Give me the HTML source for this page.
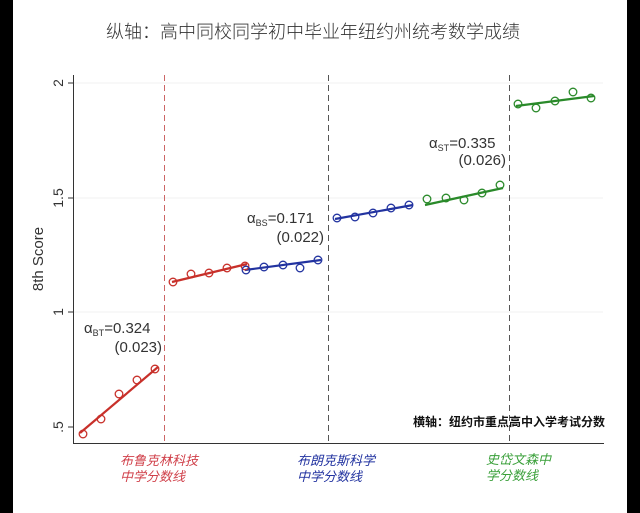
<!DOCTYPE html>
<html><head><meta charset="utf-8"><style>
html,body{margin:0;padding:0;background:#000;}
svg{display:block;}
</style></head><body>
<svg width="640" height="513" xmlns="http://www.w3.org/2000/svg" font-family="Liberation Sans, Noto Sans CJK SC, sans-serif">
<rect x="0" y="0" width="640" height="513" fill="#000"/>
<rect x="13" y="0" width="614" height="513" fill="#fff"/>
<text x="313" y="38" font-size="18" text-anchor="middle" fill="#333" font-family="Noto Sans CJK SC, sans-serif" font-weight="300">纵轴：高中同校同学初中毕业年纽约州统考数学成绩</text>
<g stroke="#f0f0f0" stroke-width="1">
<line x1="74" y1="83" x2="603" y2="83"/><line x1="74" y1="198" x2="603" y2="198"/><line x1="74" y1="312" x2="603" y2="312"/>
</g>
<g stroke="#333" stroke-width="1">
<line x1="73.5" y1="75" x2="73.5" y2="444"/>
<line x1="73" y1="443.5" x2="604" y2="443.5"/>
<line x1="68" y1="83" x2="73" y2="83"/><line x1="68" y1="198" x2="73" y2="198"/><line x1="68" y1="312" x2="73" y2="312"/><line x1="68" y1="427" x2="73" y2="427"/>
</g>
<g font-size="14" fill="#333" text-anchor="middle">
<text transform="translate(63,83) rotate(-90)">2</text>
<text transform="translate(63,198) rotate(-90)">1.5</text>
<text transform="translate(63,312) rotate(-90)">1</text>
<text transform="translate(63,427) rotate(-90)">.5</text>
<text transform="translate(43,259) rotate(-90)" font-size="15">8th Score</text>
</g>
<line x1="164.5" y1="75" x2="164.5" y2="443" stroke="#c66" stroke-dasharray="6,4"/>
<line x1="328.5" y1="75" x2="328.5" y2="443" stroke="#555" stroke-dasharray="6,4"/>
<line x1="509.5" y1="75" x2="509.5" y2="443" stroke="#555" stroke-dasharray="6,4"/>
<g stroke-width="2.2" fill="none">
<line x1="80" y1="433" x2="158" y2="367" stroke="#c8302a"/>
<line x1="172" y1="282" x2="247" y2="264" stroke="#c8302a"/>
<line x1="245" y1="270" x2="321" y2="260" stroke="#2233a0"/>
<line x1="335" y1="219" x2="413" y2="205" stroke="#2233a0"/>
<line x1="425" y1="205" x2="503" y2="188" stroke="#2a8a2a"/>
<line x1="516" y1="106" x2="594" y2="96" stroke="#2a8a2a"/>
</g>
<g fill="none" stroke-width="1.3">
<g stroke="#c8302a">
<circle cx="83" cy="434" r="3.8"/><circle cx="101" cy="419" r="3.8"/><circle cx="119" cy="394" r="3.8"/><circle cx="137" cy="380" r="3.8"/><circle cx="155" cy="369" r="3.8"/>
<circle cx="173" cy="282" r="3.8"/><circle cx="191" cy="274" r="3.8"/><circle cx="209" cy="273" r="3.8"/><circle cx="227" cy="268" r="3.8"/><circle cx="245" cy="266" r="3.8"/>
</g>
<g stroke="#2233a0">
<circle cx="246" cy="270" r="3.8"/><circle cx="264" cy="267" r="3.8"/><circle cx="283" cy="265" r="3.8"/><circle cx="300" cy="268" r="3.8"/><circle cx="318" cy="260" r="3.8"/>
<circle cx="337" cy="218" r="3.8"/><circle cx="355" cy="217" r="3.8"/><circle cx="373" cy="213" r="3.8"/><circle cx="391" cy="208" r="3.8"/><circle cx="409" cy="205" r="3.8"/>
</g>
<g stroke="#2a8a2a">
<circle cx="427" cy="199" r="3.8"/><circle cx="446" cy="198" r="3.8"/><circle cx="464" cy="200" r="3.8"/><circle cx="482" cy="193" r="3.8"/><circle cx="500" cy="185" r="3.8"/>
<circle cx="518" cy="104" r="3.8"/><circle cx="536" cy="108" r="3.8"/><circle cx="555" cy="101" r="3.8"/><circle cx="573" cy="92" r="3.8"/><circle cx="591" cy="98" r="3.8"/>
</g>
</g>
<g font-size="15" fill="#333">
<text x="84" y="333">α<tspan font-size="9" dy="3">BT</tspan><tspan dy="-3">=0.324</tspan></text>
<text x="162" y="352" text-anchor="end">(0.023)</text>
<text x="247" y="223">α<tspan font-size="9" dy="3">BS</tspan><tspan dy="-3">=0.171</tspan></text>
<text x="324" y="242" text-anchor="end">(0.022)</text>
<text x="429" y="148">α<tspan font-size="9" dy="3">ST</tspan><tspan dy="-3">=0.335</tspan></text>
<text x="506" y="165" text-anchor="end">(0.026)</text>
</g>
<text x="605" y="426" font-size="12" fill="#111" text-anchor="end" font-weight="bold" font-family="Noto Sans CJK SC, sans-serif">横轴：纽约市重点高中入学考试分数</text>
<g font-size="13" font-style="italic" font-family="Noto Sans CJK SC, sans-serif">
<text x="120" y="465" fill="#d0404a">布鲁克林科技</text><text x="120" y="481" fill="#d0404a">中学分数线</text>
<text x="297" y="465" fill="#2233a0">布朗克斯科学</text><text x="297" y="481" fill="#2233a0">中学分数线</text>
<text x="486" y="464" fill="#3aa03a">史岱文森中</text><text x="486" y="480" fill="#3aa03a">学分数线</text>
</g>
</svg>
</body></html>
